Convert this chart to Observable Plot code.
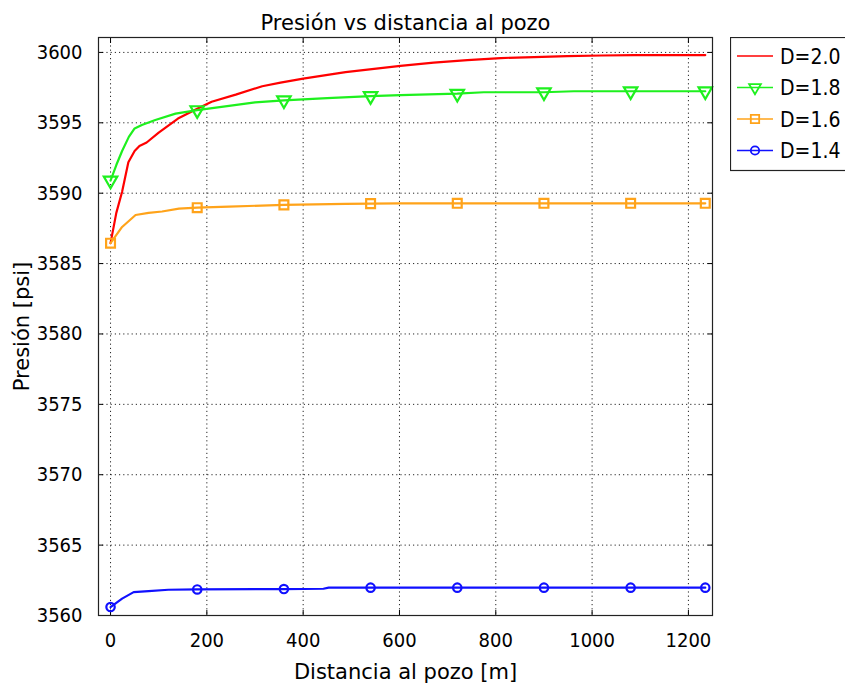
<!DOCTYPE html>
<html><head><meta charset="utf-8">
<script src="https://cdn.jsdelivr.net/npm/d3@7"></script>
<script src="https://cdn.jsdelivr.net/npm/@observablehq/plot@0.6"></script>
<style>
body{margin:0;background:#fff;overflow:hidden}
#wrap{position:relative;width:845px;height:687px;overflow:hidden;background:#fff}
#legend{position:absolute;left:730px;top:37px}
</style>
</head><body><div id="wrap"></div>
<script>
const title = "Presión vs distancia al pozo";
const xLabel = "Distancia al pozo [m]";
const yLabel = "Presión [psi]";
const xTicks = [0, 200, 400, 600, 800, 1000, 1200];
const yTicks = [3560, 3565, 3570, 3575, 3580, 3585, 3590, 3595, 3600];
const markerX = [0, 180, 360, 540, 720, 900, 1080, 1235];

const seriesNames = ["D=2.0", "D=1.8", "D=1.6", "D=1.4"];
const seriesColors = ["#ff0000", "#1ef01e", "#ffa31a", "#1010ff"];
const seriesSymbols = [null, "triangle", "square", "circle"];

const xD20 = [0, 12, 24, 37, 50, 60, 75, 100, 140, 180, 210, 260, 315, 353, 400, 488, 602, 671, 741, 810, 879, 948, 1020, 1087, 1235];
const yD20 = [3586.45, 3588.6, 3590.1, 3592.2, 3593.0, 3593.35, 3593.6, 3594.3, 3595.3, 3596.0, 3596.5, 3597.0, 3597.6, 3597.85, 3598.14, 3598.6, 3599.05, 3599.27, 3599.45, 3599.6, 3599.67, 3599.74, 3599.78, 3599.81, 3599.81];

const xD18 = [0, 12, 24, 38, 50, 65, 93, 135, 180, 246, 300, 360, 450, 540, 602, 720, 775, 900, 962, 1080, 1235];
const yD18 = [3590.9, 3592.0, 3593.0, 3594.0, 3594.6, 3594.85, 3595.2, 3595.65, 3595.9, 3596.2, 3596.45, 3596.6, 3596.75, 3596.9, 3596.97, 3597.07, 3597.17, 3597.17, 3597.24, 3597.24, 3597.24];

const xD16 = [0, 24, 52, 79, 107, 142, 180, 246, 360, 488, 540, 600, 720, 900, 1080, 1235];
const yD16 = [3586.45, 3587.6, 3588.45, 3588.6, 3588.7, 3588.9, 3588.97, 3589.05, 3589.17, 3589.24, 3589.26, 3589.28, 3589.28, 3589.28, 3589.28, 3589.28];

const xD14 = [0, 24, 48, 79, 120, 180, 360, 442, 453, 540, 720, 900, 1080, 1235];
const yD14 = [3560.6, 3561.2, 3561.66, 3561.73, 3561.83, 3561.85, 3561.88, 3561.9, 3561.98, 3561.98, 3561.98, 3561.98, 3561.98, 3561.98];

const xs = [xD20, xD18, xD16, xD14];
const ys = [yD20, yD18, yD16, yD14];
const tables = xs.map((xa, i) => xa.map((x, j) => ({x, y: ys[i][j], s: seriesNames[i]})));

const font = "'DejaVu Sans', sans-serif";
const tickFont = "'DejaVu Sans Condensed', 'DejaVu Sans', sans-serif";
const grid = {stroke: "#000", strokeOpacity: 0.85, strokeDasharray: "1.2,3"};
const fmt = d => String(d);

const marks = [
  Plot.gridX(xTicks, grid),
  Plot.gridY(yTicks, grid),
  Plot.axisX(xTicks, {anchor: "bottom", tickSize: 0, tickPadding: 17, fontSize: 20, fontFamily: tickFont, tickFormat: fmt, label: null}),
  Plot.axisX(xTicks, {anchor: "bottom", tickSize: 0, tickFormat: () => "",
    label: xLabel, labelAnchor: "center", labelArrow: "none", labelOffset: 63, fontSize: 21, fontFamily: font}),
  Plot.axisX(xTicks, {anchor: "bottom", tickSize: -5, tickFormat: () => "", label: null}),
  Plot.axisX(xTicks, {anchor: "top", tickSize: -5, tickFormat: () => "", label: null}),
  Plot.axisY(yTicks, {anchor: "left", tickSize: 0, tickPadding: 16, fontSize: 20, fontFamily: tickFont, tickFormat: fmt, label: null}),
  Plot.axisY(yTicks, {anchor: "left", tickSize: 0, tickFormat: () => "",
    label: yLabel, labelAnchor: "center", labelArrow: "none", labelOffset: 84, fontSize: 21, fontFamily: font}),
  Plot.axisY(yTicks, {anchor: "left", tickSize: -5, tickFormat: () => "", label: null}),
  Plot.axisY(yTicks, {anchor: "right", tickSize: -5, tickFormat: () => "", label: null})
];
tables.forEach((t, i) => {
  marks.push(Plot.line(t, {x: "x", y: "y", stroke: seriesColors[i], strokeWidth: 2.2}));
});
tables.forEach((t, i) => {
  if (!seriesSymbols[i]) return;
  const pts = t.filter(d => markerX.includes(d.x));
  marks.push(Plot.dot(pts, {x: "x", y: "y", symbol: seriesSymbols[i], rotate: seriesSymbols[i] === "triangle" ? 180 : 0,
    r: seriesSymbols[i] === "circle" ? 4.2 : 5, stroke: seriesColors[i], strokeWidth: 2.2, fill: "none"}));
});
marks.push(Plot.frame({stroke: "#222", strokeWidth: 1.2}));
marks.push(Plot.text([title], {frameAnchor: "top", dy: -22, fontSize: 21, fontFamily: font, fill: "#000"}));

const chart = Plot.plot({
  width: 845, height: 687,
  marginLeft: 98, marginTop: 37, marginRight: 133, marginBottom: 72,
  style: {fontFamily: font, fontSize: "20px", background: "white", color: "black", overflow: "visible"},
  x: {domain: [-25, 1250], ticks: xTicks},
  y: {domain: [3560, 3601.06], ticks: yTicks},
  marks
});
document.getElementById("wrap").appendChild(chart);

// Legend
const lg = d3.select("#wrap").append("svg").attr("id", "legend").attr("width", 140).attr("height", 136);
lg.append("rect").attr("x", 0.5).attr("y", 0.5).attr("width", 138).attr("height", 133)
  .attr("fill", "white").attr("stroke", "#222").attr("stroke-width", 1.2);
const symMap = {triangle: d3.symbolTriangle, square: d3.symbolSquare, circle: d3.symbolCircle};
seriesNames.forEach((name, i) => {
  const cy = 19 + i * 31.5;
  const g = lg.append("g");
  g.append("line").attr("x1", 7).attr("x2", 43).attr("y1", cy).attr("y2", cy)
    .attr("stroke", seriesColors[i]).attr("stroke-width", 1.6);
  if (seriesSymbols[i]) {
    const sym = seriesSymbols[i];
    const size = sym === "circle" ? 55 : sym === "square" ? 70 : 60;
    g.append("path").attr("d", d3.symbol(symMap[sym], size)())
      .attr("transform", `translate(25,${cy})` + (sym === "triangle" ? " rotate(180)" : ""))
      .attr("fill", "none").attr("stroke", seriesColors[i]).attr("stroke-width", 1.8);
  }
  g.append("text").attr("x", 50).attr("y", cy).attr("dy", "0.36em")
    .attr("font-family", tickFont).attr("font-size", 21).attr("fill", "#000").text(name);
});
</script></body></html>
